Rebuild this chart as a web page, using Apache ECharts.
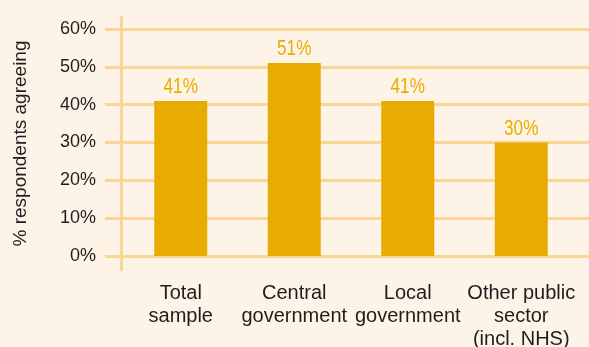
<!DOCTYPE html>
<html>
<head>
<meta charset="utf-8">
<script src="https://cdn.jsdelivr.net/npm/echarts@6/dist/echarts.min.js"></script>
<style>
  html, body { margin: 0; padding: 0; background: #FDF4E7; }
  #chart { width: 589px; height: 347px; }
</style>
</head>
<body>
<div id="chart"></div>
<script>
// Share of respondents agreeing, by sector
const categories = ['Total\nsample', 'Central\ngovernment', 'Local\ngovernment', 'Other public\nsector\n(incl. NHS)'];
const agreeing = [41, 51, 41, 30];
const yTicks = [0, 10, 20, 30, 40, 50, 60];

const GOLD = '#E8AC00';
const GRID_LINE = '#F8D796';
const INK = '#1F1D1E';
const FONT = '"Liberation Sans", Arial, sans-serif';

const yMin = yTicks[0];
const yMax = yTicks[yTicks.length - 1];
const yStep = yTicks[1] - yTicks[0];

const chart = echarts.init(document.getElementById('chart'), null, { renderer: 'canvas' });

// Value labels are drawn in a condensed cut: a regular face squeezed horizontally.
function renderValueLabel(params, api) {
  const v = api.value(1);
  const p = api.coord([api.value(0), v]);
  return {
    type: 'text',
    x: p[0],
    y: p[1] - 3,
    scaleX: 0.78,
    style: {
      text: v + '%',
      fill: GOLD,
      font: '22px "Liberation Sans", Arial, sans-serif',
      align: 'center',
      verticalAlign: 'bottom'
    }
  };
}

// Fixed plot rectangles; labels may run to the page edge without shrinking them.
const fixedGrid = (box) => Object.assign({ containLabel: false, outerBoundsMode: 'none' }, box);

chart.setOption({
  backgroundColor: '#FDF4E7',
  animation: false,
  grid: [
    // bars
    fixedGrid({ left: 124, right: 11, top: 29, bottom: 91 }),
    // horizontal rules and tick labels
    fixedGrid({ left: 105, right: 0, top: 29, bottom: 91 }),
    // vertical axis rule
    fixedGrid({ left: 121, right: 11, top: 17, bottom: 77 })
  ],
  xAxis: [
    {
      gridIndex: 0,
      type: 'category',
      data: categories,
      axisLine: { show: false },
      axisTick: { show: false },
      axisLabel: {
        margin: 26,
        color: INK,
        fontFamily: FONT,
        fontSize: 20,
        lineHeight: 23,
        interval: 0,
        align: 'center'
      }
    },
    { gridIndex: 1, type: 'value', show: false },
    { gridIndex: 2, type: 'value', show: false }
  ],
  yAxis: [
    {
      gridIndex: 0,
      type: 'value',
      min: yMin, max: yMax, interval: yStep,
      axisLine: { show: false },
      axisTick: { show: false },
      axisLabel: { show: false },
      splitLine: { show: false }
    },
    {
      gridIndex: 1,
      type: 'value',
      min: yMin, max: yMax, interval: yStep,
      axisLine: { show: false },
      axisTick: { show: false },
      axisLabel: {
        margin: 9,
        color: INK,
        fontFamily: FONT,
        fontSize: 18,
        formatter: '{value}%'
      },
      splitLine: { show: true, lineStyle: { color: GRID_LINE, width: 3 } }
    },
    {
      gridIndex: 2,
      type: 'value',
      min: 0, max: 1,
      axisLine: { show: true, lineStyle: { color: GRID_LINE, width: 3 } },
      axisTick: { show: false },
      axisLabel: { show: false },
      splitLine: { show: false },
      name: '% respondents agreeing',
      nameLocation: 'middle',
      nameRotate: 90,
      nameGap: 91,
      nameTextStyle: { color: INK, fontFamily: FONT, fontSize: 19 }
    }
  ],
  series: [
    {
      type: 'bar',
      xAxisIndex: 0,
      yAxisIndex: 0,
      data: agreeing,
      barWidth: 53,
      z: 5,
      itemStyle: { color: GOLD }
    },
    {
      type: 'custom',
      xAxisIndex: 0,
      yAxisIndex: 0,
      z: 6,
      data: agreeing.map((v, i) => [i, v]),
      renderItem: renderValueLabel
    }
  ]
});
</script>
</body>
</html>
